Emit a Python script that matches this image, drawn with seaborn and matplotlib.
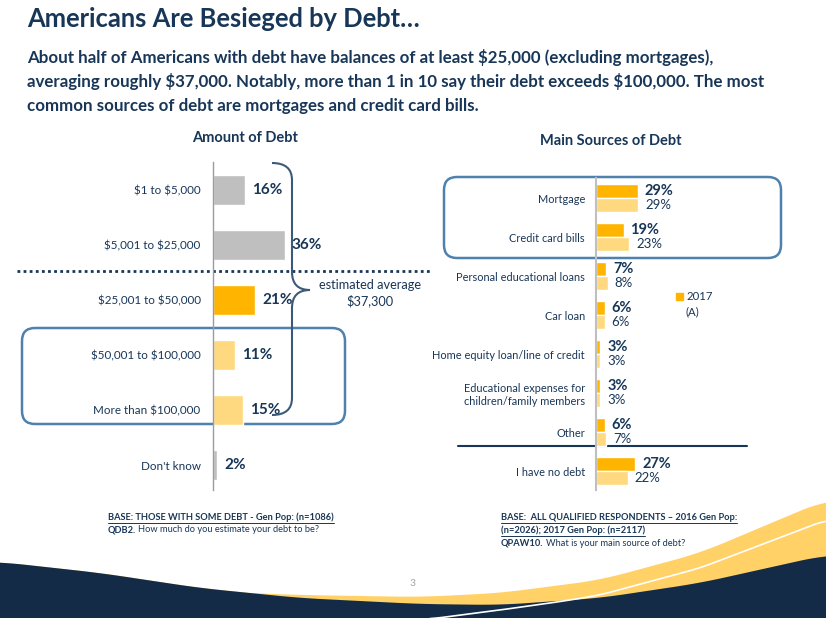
import matplotlib
matplotlib.use("Agg")
import matplotlib.pyplot as plt
import seaborn as sns
import numpy as np
import pandas as pd
from matplotlib.patches import FancyBboxPatch, Rectangle, PathPatch
from matplotlib.path import Path

# ---------------- data ----------------
amount_labels = ["$1 to $5,000", "$5,001 to $25,000", "$25,001 to $50,000",
                 "$50,001 to $100,000", "More than $100,000", "Don't know"]
amount_pct = [16, 36, 21, 11, 15, 2]

source_labels = ["Mortgage", "Credit card bills", "Personal educational loans", "Car loan",
                 "Home equity loan/line of credit",
                 "Educational expenses for\nchildren/family members", "Other", "I have no debt"]
pct_2017 = [29, 19, 7, 6, 3, 3, 6, 27]
pct_2016 = [29, 23, 8, 6, 3, 3, 7, 22]
years = ["2017", "2016"]

# ---------------- style ----------------
sns.set_style("white")
plt.rcParams["font.family"] = ["Lato", "DejaVu Sans"]
plt.rcParams["text.parse_math"] = False

NAVY = "#183657"
GRAY = "#BFBFBF"
ORANGE = "#FFB400"
LIGHT = "#FFD980"
BOXBLUE = "#4F81AE"
DEEP = "#132B47"
BAND = "#FFD166"

W, H = 826, 618
fig = plt.figure(figsize=(W / 100, H / 100), dpi=100)
bg = fig.add_axes([0, 0, 1, 1], zorder=0)
bg.set_xlim(0, W)
bg.set_ylim(H, 0)
bg.axis("off")


def px_axes(x0, y0, x1, y1):
    a = fig.add_axes([x0 / W, 1 - y1 / H, (x1 - x0) / W, (y1 - y0) / H], zorder=2)
    a.patch.set_alpha(0)
    return a


# ---------------- titles ----------------
bg.text(27, 19, "Americans Are Besieged by Debt…", fontsize=18.4, fontweight="bold",
        color=NAVY, va="center", ha="left")
sub = ["About half of Americans with debt have balances of at least $25,000 (excluding mortgages),",
       "averaging roughly $37,000. Notably, more than 1 in 10 say their debt exceeds $100,000. The most",
       "common sources of debt are mortgages and credit card bills."]
for i, s in enumerate(sub):
    bg.text(27, 57 + 24.5 * i, s, fontsize=12.15, fontweight="bold", color=NAVY,
            va="center", ha="left")

bg.text(245, 138, "Amount of Debt", fontsize=10.5, fontweight="bold", color=NAVY,
        ha="center", va="center")
bg.text(611, 141, "Main Sources of Debt", fontsize=10.5, fontweight="bold", color=NAVY,
        ha="center", va="center")

# ---------------- left chart ----------------
axl = px_axes(213, 162, 413, 490)
df_l = pd.DataFrame({"amount": amount_labels, "pct": amount_pct})
left_colors = [GRAY, GRAY, ORANGE, LIGHT, LIGHT, GRAY]
sns.barplot(data=df_l, y="amount", x="pct", hue="amount", palette=left_colors,
            legend=False, width=0.56, orient="h", ax=axl, saturation=1)
axl.set_xlim(0, 100)
axl.set_ylim(5.4545, -0.509)
axl.set_xlabel("")
axl.set_ylabel("")
axl.set_xticks([])
for s in ["top", "right", "bottom"]:
    axl.spines[s].set_visible(False)
axl.spines["left"].set_color("#9A9AAA")
axl.spines["left"].set_linewidth(1.0)
axl.tick_params(axis="y", length=0, pad=9, labelsize=8.4, labelcolor=NAVY)
for c in axl.containers:
    axl.bar_label(c, labels=[f"{v:.0f}%" for v in c.datavalues], padding=5,
                  fontsize=11, fontweight="bold", color=NAVY)

# ---------------- right chart ----------------
axr = px_axes(596, 178, 741, 490)
df_r = pd.DataFrame({
    "source": source_labels * 2,
    "year": [years[0]] * len(source_labels) + [years[1]] * len(source_labels),
    "pct": pct_2017 + pct_2016,
})
sns.barplot(data=df_r, y="source", x="pct", hue="year", hue_order=years,
            palette={"2017": ORANGE, "2016": LIGHT}, legend=False, width=0.74,
            orient="h", ax=axr, saturation=1)
axr.set_xlim(0, 100)
axr.set_ylim(7.487, -0.513)
axr.set_xlabel("")
axr.set_ylabel("")
axr.set_xticks([])
for s in ["top", "right", "bottom"]:
    axr.spines[s].set_visible(False)
axr.spines["left"].set_color("#BFBFBF")
axr.spines["left"].set_linewidth(1.5)
axr.tick_params(axis="y", length=0, pad=8, labelsize=7.9, labelcolor=NAVY)
axr.bar_label(axr.containers[0], labels=[f"{v:.0f}%" for v in axr.containers[0].datavalues],
              padding=5, fontsize=10.5, fontweight="bold", color=NAVY)
axr.bar_label(axr.containers[1], labels=[f"{v:.0f}%" for v in axr.containers[1].datavalues],
              padding=5, fontsize=9.5, color=NAVY)

# legend (only 2017 shown, as in reference)
bg.add_patch(Rectangle((676, 293), 7, 7, color=ORANGE))
bg.text(686, 297, "2017", fontsize=8.2, color=NAVY, va="center", ha="left")
bg.text(686, 312, "(A)", fontsize=8.2, color=NAVY, va="center", ha="left")

# separator line above "I have no debt"
bg.plot([458, 747], [446, 446], color=NAVY, lw=1.5)

# ---------------- annotations on left ----------------
bg.plot([17, 432], [271, 271], color=NAVY, lw=2, linestyle=(0, (1, 1.2)))

bg.add_patch(FancyBboxPatch((22, 328), 323, 96, boxstyle="round,pad=0,rounding_size=13",
                            fill=False, ec=BOXBLUE, lw=1.8, zorder=3))
bg.add_patch(FancyBboxPatch((444, 177), 337, 81, boxstyle="round,pad=0,rounding_size=13",
                            fill=False, ec=BOXBLUE, lw=1.8, zorder=3))

verts = [(272, 163), (292, 163), (292, 180), (292, 272), (292, 290), (310, 290),
         (292, 290), (292, 308), (292, 398), (292, 415), (272, 415)]
codes = [Path.MOVETO, Path.CURVE3, Path.CURVE3, Path.LINETO, Path.CURVE3, Path.CURVE3,
         Path.CURVE3, Path.CURVE3, Path.LINETO, Path.CURVE3, Path.CURVE3]
bg.add_patch(PathPatch(Path(verts, codes), fill=False, ec="#3C5A78", lw=1.5, zorder=3))
bg.text(370, 285, "estimated average", fontsize=9.2, color=NAVY, ha="center", va="center")
bg.text(370, 301, "$37,300", fontsize=9.2, color=NAVY, ha="center", va="center")

# ---------------- footnotes ----------------
renderer = fig.canvas.get_renderer()
FS = 6.7


def underlined(x, y, s, size=FS):
    t = bg.text(x, y, s, fontsize=size, fontweight="bold", color=NAVY, ha="left", va="center")
    bb = t.get_window_extent(renderer)
    bg.plot([x, x + bb.width], [y + 6, y + 6], color=NAVY, lw=0.7)


def mixed(x, y, bold, rest, size=FS):
    t = bg.text(x, y, bold, fontsize=size, fontweight="bold", color=NAVY, ha="left", va="center")
    bb = t.get_window_extent(renderer)
    bg.text(x + bb.width + 2, y, rest, fontsize=size, color=NAVY, ha="left", va="center")


underlined(108, 517, "BASE: THOSE WITH SOME DEBT - Gen Pop: (n=1086)")
mixed(108, 530, "QDB2.", "How much do you estimate your debt to be?")
underlined(501, 517, "BASE:  ALL QUALIFIED RESPONDENTS – 2016 Gen Pop:")
underlined(501, 530, "(n=2026); 2017 Gen Pop: (n=2117)")
mixed(501, 543, "QPAW10.", "What is your main source of debt?")

# ---------------- bottom wave decoration ----------------
def smooth(x, xp, fp, k=25):
    y = np.interp(x, xp, fp)
    pad = np.pad(y, k, mode="edge")
    ker = np.ones(2 * k + 1) / (2 * k + 1)
    return np.convolve(pad, ker, mode="valid")


xs = np.linspace(0, W, 800)
navy_top = smooth(xs, [0, 100, 200, 300, 420, 500, 600, 700, 826],
                  [562, 573, 588, 598, 604, 605, 598, 583, 555])
band_top = smooth(xs, [0, 150, 200, 300, 420, 500, 600, 700, 826],
                  [575, 585, 591, 595, 597, 593, 580, 553, 500])
band_top = np.minimum(band_top, navy_top)
bg.fill_between(xs, band_top, H + 2, color=BAND, lw=0, zorder=1)
bg.fill_between(xs, navy_top, H + 2, color=DEEP, lw=0, zorder=1)
wx = np.linspace(430, W, 300)
wy = smooth(wx, [430, 500, 564, 600, 700, 826], [619, 610, 601, 595, 568, 520], k=10)
bg.plot(wx, wy, color="white", lw=1.2, zorder=1.5)
bg.text(413, 584, "3", fontsize=7.5, color="#A6A6A6", ha="center", va="center")

fig.savefig("out.png", dpi=100)
